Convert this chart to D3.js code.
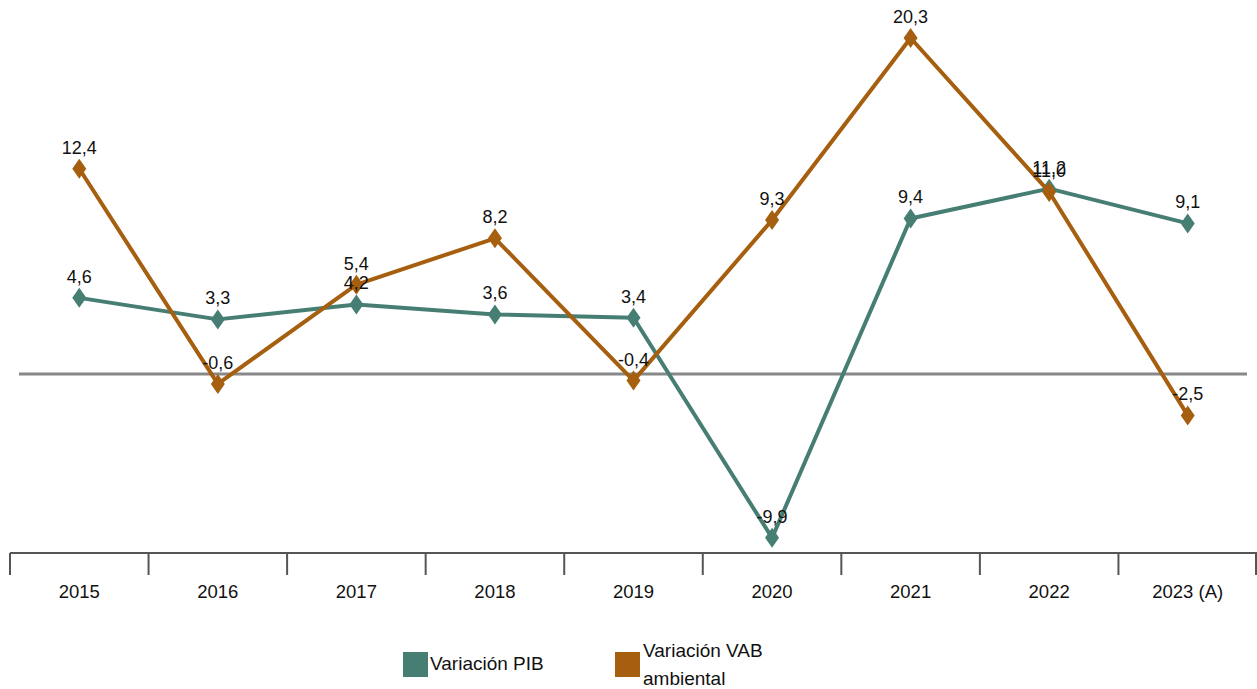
<!DOCTYPE html>
<html>
<head>
<meta charset="utf-8">
<script src="https://cdn.jsdelivr.net/npm/d3@7"></script>
<style>
  body { margin: 0; background: #fff; }
  text { font-family: "Liberation Sans", Arial, sans-serif; fill: #111; }
</style>
</head>
<body>
<div id="chart"></div>
<script>
// Data
var years = ["2015", "2016", "2017", "2018", "2019", "2020", "2021", "2022", "2023 (A)"];
var pib = [4.6, 3.3, 4.2, 3.6, 3.4, -9.9, 9.4, 11.2, 9.1];
var vab = [12.4, -0.6, 5.4, 8.2, -0.4, 9.3, 20.3, 11.0, -2.5];
var seriesNames = ["Variación PIB", "Variación VAB ambiental"];
var seriesColors = ["#477e74", "#a65e0f"];

var width = 1257, height = 689;

var svg = d3.select("#chart").append("svg")
    .attr("width", width)
    .attr("height", height);

var x = d3.scaleBand()
    .domain(years)
    .range([10, 1257]);

var y = d3.scaleLinear()
    .domain([-10, 20.3])
    .range([374 + 10 * 16.55, 374 - 20.3 * 16.55]);

// zero line
svg.append("line")
    .attr("x1", 19).attr("x2", 1247)
    .attr("y1", y(0)).attr("y2", y(0))
    .attr("stroke", "#888")
    .attr("stroke-width", 3);

// category axis with ticks on band edges
var axisY = 553;
svg.append("line")
    .attr("x1", 10).attr("x2", 1257)
    .attr("y1", axisY).attr("y2", axisY)
    .attr("stroke", "#555")
    .attr("stroke-width", 2);

var edges = years.map(function(d) { return x(d); }).concat([x.range()[1] - 1]);
svg.selectAll(".tick")
    .data(edges)
  .enter().append("line")
    .attr("x1", function(d) { return d; })
    .attr("x2", function(d) { return d; })
    .attr("y1", axisY)
    .attr("y2", axisY + 22)
    .attr("stroke", "#555")
    .attr("stroke-width", 2);

svg.selectAll(".ylab")
    .data(years)
  .enter().append("text")
    .attr("x", function(d) { return x(d) + x.bandwidth() / 2; })
    .attr("y", 598)
    .attr("text-anchor", "middle")
    .style("font-size", "18.5px")
    .text(function(d) { return d; });

function cx(i) { return x(years[i]) + x.bandwidth() / 2; }

var line = d3.line()
    .x(function(d, i) { return cx(i); })
    .y(function(d) { return y(d); });

function diamond(px, py) {
  var w = 7, h = 10;
  return "M" + px + "," + (py - h) + "L" + (px + w) + "," + py +
         "L" + px + "," + (py + h) + "L" + (px - w) + "," + py + "Z";
}

[pib, vab].forEach(function(values, s) {
  var g = svg.append("g");
  g.append("path")
      .datum(values)
      .attr("d", line)
      .attr("fill", "none")
      .attr("stroke", seriesColors[s])
      .attr("stroke-width", 4)
      .attr("stroke-linejoin", "round");

  g.selectAll(".mark")
      .data(values)
    .enter().append("path")
      .attr("d", function(d, i) { return diamond(cx(i), y(d)); })
      .attr("fill", seriesColors[s]);
});

// value labels above points
[pib, vab].forEach(function(values) {
  svg.append("g").selectAll("text")
      .data(values)
    .enter().append("text")
      .attr("x", function(d, i) { return cx(i); })
      .attr("y", function(d) { return y(d) - 15; })
      .attr("text-anchor", "middle")
      .style("font-size", "18px")
      .text(function(d) { return d.toFixed(1).replace(".", ","); });
});

// legend
var legend = svg.append("g");
legend.append("rect")
    .attr("x", 403).attr("y", 652).attr("width", 25).attr("height", 25)
    .attr("fill", seriesColors[0]);
legend.append("text")
    .attr("x", 430).attr("y", 670)
    .style("font-size", "19px")
    .text(seriesNames[0]);
legend.append("rect")
    .attr("x", 615).attr("y", 652).attr("width", 25).attr("height", 25)
    .attr("fill", seriesColors[1]);
var t2 = legend.append("text")
    .attr("x", 643).attr("y", 657)
    .style("font-size", "19px");
t2.append("tspan").attr("x", 643).text("Variación VAB");
t2.append("tspan").attr("x", 643).attr("dy", 28).text("ambiental");
</script>
</body>
</html>
